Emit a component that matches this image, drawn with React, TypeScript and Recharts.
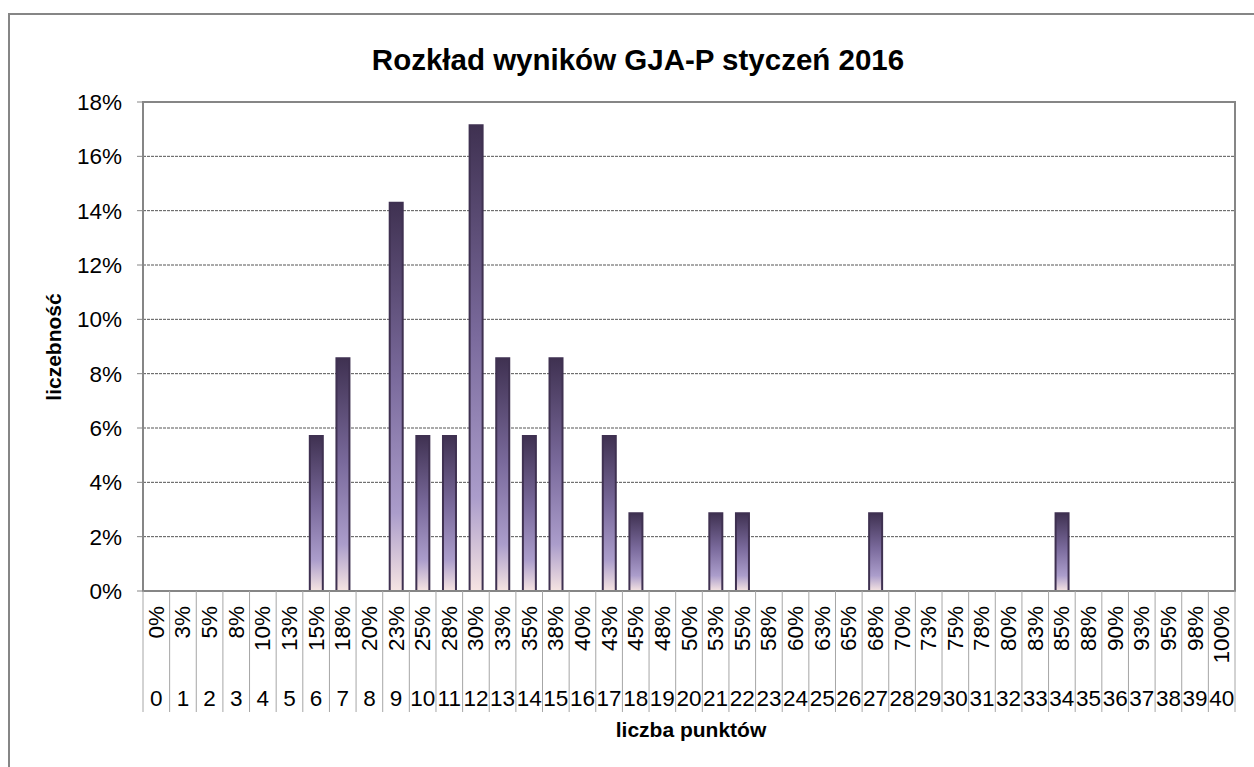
import { BarChart, Bar, XAxis, YAxis, CartesianGrid, ReferenceArea } from "recharts";

// liczba punktów (0–40) i odpowiadający procent maksymalnego wyniku
const points = [
  0, 1, 2, 3, 4, 5, 6, 7, 8, 9, 10, 11, 12, 13, 14, 15, 16, 17, 18, 19, 20,
  21, 22, 23, 24, 25, 26, 27, 28, 29, 30, 31, 32, 33, 34, 35, 36, 37, 38, 39, 40,
];
const pctLabels = [
  "0%", "3%", "5%", "8%", "10%", "13%", "15%", "18%", "20%", "23%", "25%",
  "28%", "30%", "33%", "35%", "38%", "40%", "43%", "45%", "48%", "50%",
  "53%", "55%", "58%", "60%", "63%", "65%", "68%", "70%", "73%", "75%",
  "78%", "80%", "83%", "85%", "88%", "90%", "93%", "95%", "98%", "100%",
];
// liczebność w %
const shares = [
  0, 0, 0, 0, 0, 0, 5.71, 8.57, 0, 14.29, 5.71, 5.71, 17.14, 8.57, 5.71, 8.57,
  0, 5.71, 2.86, 0, 0, 2.86, 2.86, 0, 0, 0, 0, 2.86, 0, 0, 0, 0, 0, 0, 2.86,
  0, 0, 0, 0, 0, 0,
];
const yTicks = [0, 2, 4, 6, 8, 10, 12, 14, 16, 18];

const W = 1254;
const H = 767;
const MARGIN = { top: 102, right: 19, bottom: 0, left: 0 };
const Y_AXIS_W = 143;
const X_AXIS_H = 176;
const PLOT_W = W - MARGIN.left - MARGIN.right - Y_AXIS_W;
const BAND = PLOT_W / points.length;
const FONT = "'Liberation Sans', Arial, sans-serif";
const TICK_SIZE = 22.5;

const data = points.map((p, i) => ({ pts: p, share: shares[i] }));

function CategoryTick(props: any) {
  const { x, y, payload } = props;
  const i = props.index ?? points.indexOf(payload.value);
  const left = x - BAND / 2;
  const last = i === points.length - 1;
  return (
    <g fontFamily={FONT} fontSize={TICK_SIZE} fill="#000">
      <line x1={left} y1={y} x2={left} y2={y + 121} stroke="#a6a6a6" />
      {last && <line x1={left + BAND} y1={y} x2={left + BAND} y2={y + 121} stroke="#a6a6a6" />}
      <text
        transform={`translate(${x},${y + 15}) rotate(-90)`}
        textAnchor="end"
        dominantBaseline="central"
        fill="#000"
      >
        {pctLabels[i]}
      </text>
      <text x={x} y={y + 107} textAnchor="middle" dominantBaseline="central" fill="#000">
        {payload.value}
      </text>
    </g>
  );
}

export default function App() {
  return (
    <div style={{ position: "relative", width: W, height: H, overflow: "hidden", background: "#fff" }}>
      <style>{"body{margin:0}"}</style>
      <div
        style={{
          position: "absolute",
          left: 8,
          top: 13,
          width: W + 40,
          height: H + 40,
          border: "2px solid #868686",
        }}
      />
      <div
        style={{
          position: "absolute",
          left: 0,
          width: 1276,
          top: 41,
          textAlign: "center",
          fontFamily: FONT,
          fontWeight: "bold",
          fontSize: 29.5,
          lineHeight: "38px",
        }}
      >
        Rozkład wyników GJA-P styczeń 2016
      </div>
      <div
        style={{
          position: "absolute",
          left: 54,
          top: 347,
          transform: "translate(-50%,-50%) rotate(-90deg)",
          fontFamily: FONT,
          fontWeight: "bold",
          fontSize: 21,
          whiteSpace: "nowrap",
        }}
      >
        liczebność
      </div>
      <div
        style={{
          position: "absolute",
          left: 691,
          top: 730,
          transform: "translate(-50%,-50%)",
          fontFamily: FONT,
          fontWeight: "bold",
          fontSize: 21,
          whiteSpace: "nowrap",
        }}
      >
        liczba punktów
      </div>
      <div style={{ position: "absolute", left: 0, top: 0 }}>
        <BarChart width={W} height={H} data={data} margin={MARGIN} barCategoryGap={0}>
          <defs>
            <linearGradient id="barFill" x1="0" y1="0" x2="0" y2="1">
              <stop offset="0%" stopColor="#3f3151" />
              <stop offset="45%" stopColor="#7a6a9c" />
              <stop offset="80%" stopColor="#ab9dcb" />
              <stop offset="100%" stopColor="#f6e4e2" />
            </linearGradient>
          </defs>
          <CartesianGrid horizontal vertical={false} stroke="#555" strokeDasharray="3 1" />
          <ReferenceArea y1={0} y2={18} fill="none" stroke="#868686" strokeWidth={2} />
          <XAxis
            dataKey="pts"
            interval={0}
            height={X_AXIS_H}
            tickLine={false}
            tickSize={0}
            tickMargin={0}
            axisLine={{ stroke: "#868686", strokeWidth: 2 }}
            tick={<CategoryTick />}
          />
          <YAxis
            width={Y_AXIS_W}
            domain={[0, 18]}
            ticks={yTicks}
            interval={0}
            tickFormatter={(v: number) => `${v}%`}
            tickSize={6}
            tickMargin={15}
            tickLine={{ stroke: "#868686" }}
            axisLine={{ stroke: "#868686", strokeWidth: 2 }}
            tick={{ fill: "#000", fontSize: TICK_SIZE, fontFamily: FONT }}
          />
          <Bar
            dataKey="share"
            barSize={13}
            fill="url(#barFill)"
            stroke="#3f3151"
            strokeWidth={2}
            isAnimationActive={false}
          />
        </BarChart>
      </div>
    </div>
  );
}
